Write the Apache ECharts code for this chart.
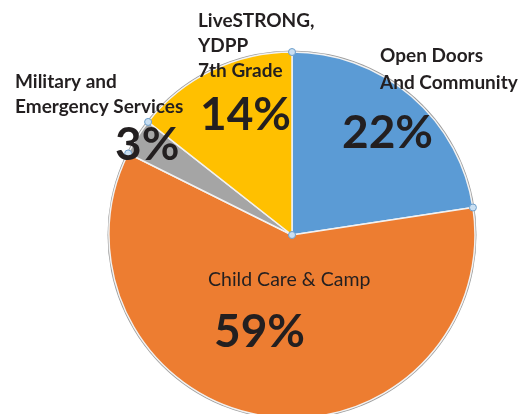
<!DOCTYPE html>
<html style="height: 100%">
<head>
  <meta charset="utf-8">
  <title>Program share pie</title>
  <script src="https://cdn.jsdelivr.net/npm/echarts@6/dist/echarts.min.js"></script>
</head>
<body style="height: 100%; margin: 0; background: #fff">
  <div id="main" style="width: 524px; height: 414px;"></div>
  <script type="text/javascript">
    // slices in clockwise order, starting at 12 o'clock
    var categories = ['Open Doors\nAnd Community', 'Child Care & Camp', 'Military and\nEmergency Services', 'LiveSTRONG,\nYDPP\n7th Grade'];
    var shares = [22.6, 59.75, 3.25, 14.4];
    var pctLabels = ['22%', '59%', '3%', '14%'];
    var colors = ['#5b9bd5', '#ed7d31', '#a5a5a5', '#ffc000'];

    // where the text sits (layout only)
    var nameBoxes = [
      { x: 380, y: 43, bold: true, size: 19, lh: 26.5 },
      { x: 208, y: 270, bold: false, size: 19.5, lh: 19.5 },
      { x: 15, y: 69, bold: true, size: 19, lh: 25 },
      { x: 198, y: 8, bold: true, size: 19, lh: 25 }
    ];
    var pctBoxes = [
      { x: 342, y: 110 },
      { x: 214, y: 309 },
      { x: 115, y: 122 },
      { x: 200, y: 92 }
    ];

    var cx = 292, cy = 235, R = 183;
    var FONT = 'Lato, "Open Sans", sans-serif';

    var dom = document.getElementById('main');
    var myChart = echarts.init(dom, null, { renderer: 'canvas' });

    var graphics = [];
    categories.forEach(function (name, i) {
      var b = nameBoxes[i];
      graphics.push({
        type: 'text', left: b.x, top: b.y, z: 100,
        style: {
          text: name, fill: '#231f20', lineHeight: b.lh,
          font: (b.bold ? 'bold ' : '') + b.size + 'px ' + FONT
        }
      });
      var p = pctBoxes[i];
      graphics.push({
        type: 'text', left: p.x, top: p.y, z: 100,
        style: {
          text: pctLabels[i], fill: '#231f20', lineHeight: 46,
          font: 'bold 46px ' + FONT
        }
      });
    });

    // selection handles at slice boundaries (Excel look)
    var total = shares.reduce(function (a, b) { return a + b; }, 0);
    var acc = 0;
    var handlePts = [[cx, cy]];
    shares.forEach(function (v) {
      var ang = (90 - acc / total * 360) * Math.PI / 180;
      handlePts.push([cx + R * Math.cos(ang), cy - R * Math.sin(ang)]);
      acc += v;
    });
    handlePts.forEach(function (pt) {
      graphics.push({
        type: 'circle', z: 90,
        shape: { cx: pt[0], cy: pt[1], r: 3.5 },
        style: { fill: '#c9dff2', stroke: '#6d9fcc', lineWidth: 1 }
      });
    });

    var option = {
      animation: false,
      series: [
        {
          type: 'pie',
          silent: true,
          center: [cx, cy],
          radius: R + 1.5,
          startAngle: 90,
          label: { show: false },
          labelLine: { show: false },
          itemStyle: { color: '#9b9b9b' },
          data: [{ value: 1 }],
          z: 1
        },
        {
          type: 'pie',
          silent: true,
          center: [cx, cy],
          radius: R,
          startAngle: 90,
          clockwise: true,
          label: { show: false },
          labelLine: { show: false },
          itemStyle: { borderColor: '#f2f2f2', borderWidth: 1.5 },
          data: categories.map(function (c, i) {
            return { name: c, value: shares[i], itemStyle: { color: colors[i] } };
          }),
          z: 2
        }
      ],
      graphic: graphics
    };
    myChart.setOption(option, true);
  </script>
</body>
</html>
